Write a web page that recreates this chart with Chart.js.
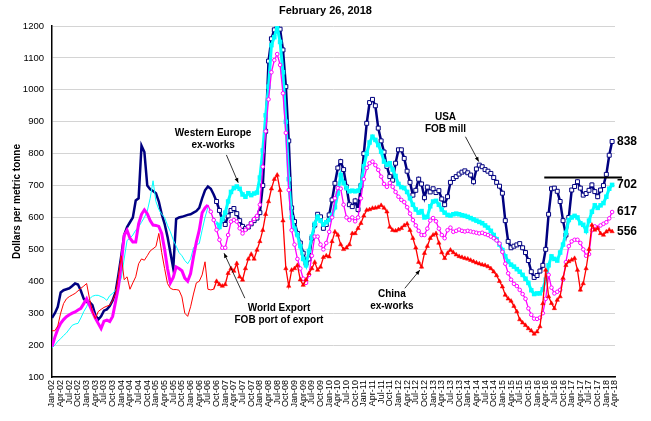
<!DOCTYPE html>
<html>
<head>
<meta charset="utf-8">
<title>Steel prices, February 26, 2018</title>
<script src="https://cdn.jsdelivr.net/npm/chart.js@4.4.1/dist/chart.umd.min.js"></script>
<style>
  html, body { margin: 0; padding: 0; background: #fff; }
  #wrap { width: 651px; height: 421px; position: relative; }
</style>
</head>
<body>
<div id="wrap"><canvas id="priceChart"></canvas></div>
<script>
// quarterly tick labels, one every 3 months from Jan-02
const tickLabels = [
  "Jan-02","Apr-02","Jul-02","Oct-02","Jan-03","Apr-03","Jul-03","Oct-03",
  "Jan-04","Apr-04","Jul-04","Oct-04","Jan-05","Apr-05","Jul-05","Oct-05",
  "Jan-06","Apr-06","Jul-06","Oct-06","Jan-07","Apr-07","Jul-07","Oct-07",
  "Jan-08","Apr-08","Jul-08","Oct-08","Jan-09","Apr-09","Jul-09","Oct-09",
  "Jan-10","Apr-10","Jul-10","Oct-10","Jan-11","Apr-11","Jul-11","Oct-11",
  "Jan-12","Apr-12","Jul-12","Oct-12","Jan-13","Apr-13","Jul-13","Oct-13",
  "Jan-14","Apr-14","Jul-14","Oct-14","Jan-15","Apr-15","Jul-15","Oct-15",
  "Jan-16","Apr-16","Jul-16","Oct-16","Jan-17","Apr-17","Jul-17","Oct-17",
  "Jan-18","Apr-18"
];
const monthsPerTick = 3;

// monthly prices, $/t, Jan-02 onward
const usaFob = [
  285,300,320,365,372,375,378,385,393,390,370,345,
  335,335,325,295,280,290,308,312,322,340,365,420,
  480,545,570,585,600,653,660,825,805,700,688,683,
  676,650,610,580,540,490,440,595,600,602,605,608,
  610,615,620,630,660,685,697,690,672,650,622,590,
  578,605,622,628,612,590,572,565,570,580,590,598,
  615,700,870,1090,1160,1188,1200,1190,1125,1010,840,630,
  587,550,520,488,456,470,535,576,610,602,566,578,
  608,655,707,755,775,750,696,640,634,652,625,700,
  800,895,960,970,950,880,840,805,760,728,717,770,
  812,812,785,745,710,670,685,720,705,662,695,680,
  690,678,684,658,640,665,710,722,728,736,742,746,
  740,733,712,752,764,759,750,745,738,725,710,698,
  676,590,525,505,510,514,518,505,490,465,430,412,
  418,432,450,500,610,690,692,682,650,590,545,600,
  686,697,712,692,670,675,685,702,681,665,686,700,
  735,795,838
];
const westEurope = [
  192,200,212,220,230,238,250,262,266,268,285,305,
  320,345,353,356,356,352,348,340,355,362,372,385,
  410,470,528,535,545,560,570,585,600,620,660,715,
  650,625,610,600,575,555,530,510,490,480,465,455,
  470,505,515,518,560,600,632,null,600,585,570,595,
  615,650,680,692,697,690,672,665,676,670,675,678,
  725,810,920,1010,1140,1165,1198,1150,1055,900,720,600,
  565,545,510,470,450,495,540,580,602,590,578,585,
  592,608,632,675,733,708,692,682,684,682,684,700,
  760,800,835,853,843,827,806,775,765,770,750,730,
  705,695,692,680,660,640,625,615,620,600,602,635,
  650,652,640,625,615,608,606,610,612,610,607,605,
  602,598,594,590,586,582,575,568,558,545,532,515,
  498,478,462,452,446,438,430,420,408,395,372,360,
  362,362,375,405,450,478,470,465,490,515,552,592,
  600,605,600,582,577,558,590,618,638,630,638,645,
  665,690,702
];
const worldExport = [
  195,225,250,268,280,289,295,300,304,310,315,330,
  345,325,304,285,268,252,275,278,274,290,335,382,
  455,544,560,535,523,523,580,610,624,612,590,576,
  575,572,550,500,440,395,412,445,440,433,410,400,
  424,476,523,560,615,630,639,618,592,561,530,505,
  505,545,587,592,587,566,550,561,571,582,595,605,
  640,759,870,970,1055,1093,1112,1078,989,865,686,560,
  515,470,440,408,395,420,480,540,540,515,500,520,
  555,600,660,692,690,640,600,592,600,588,600,660,
  720,755,770,775,764,749,728,705,696,708,696,680,
  665,655,648,632,612,592,575,558,545,545,565,590,
  598,588,565,545,535,560,568,555,558,562,558,556,
  558,556,554,552,550,552,548,545,540,535,528,518,
  492,455,425,405,392,385,373,360,345,315,295,283,
  282,286,300,345,420,380,362,367,373,405,460,510,
  525,530,530,520,500,480,485,560,572,568,575,580,
  585,597,617
];
const chinaExw = [
  245,245,260,300,330,345,352,357,362,370,378,385,
  393,345,305,283,305,312,318,322,325,340,361,415,
  480,405,414,375,395,414,455,470,466,480,495,502,
  509,550,490,440,393,378,374,374,372,351,300,290,
  320,360,395,400,420,461,375,373,375,400,390,385,
  390,425,440,432,456,414,404,440,470,485,470,498,
  525,560,610,650,690,720,733,685,590,440,385,435,
  440,450,405,388,405,425,440,460,435,445,475,480,
  477,525,555,545,515,500,505,515,550,550,566,582,
  605,623,625,629,630,632,638,630,618,570,560,558,
  562,566,575,580,560,535,505,460,445,488,510,535,
  545,550,520,490,472,488,498,490,483,478,475,472,
  470,466,462,458,455,452,450,446,440,430,418,400,
  383,357,345,338,322,305,280,270,262,252,245,235,
  242,258,330,435,352,331,315,341,352,410,450,462,
  467,472,435,373,393,440,500,576,561,566,550,545,
  555,561,556
];

// horizontal marker level drawn across 2016-2018
const refLevel = 725;
const refFrom = 170.5;
const refTo = 197.4;

const toPoints = (arr) => arr.map((v, i) => ({ x: i, y: v }));

Chart.defaults.font.family = "'Liberation Sans', Arial, sans-serif";
Chart.defaults.color = "#000";

// text callouts, placed in data coordinates (month index, $/t)
const callouts = [
  { lines: ["Western Europe", "ex-works"], at: [55.8, 844], from: [60.4, 796], to: [64.5, 709] },
  { lines: ["World Export", "FOB port of export"], at: [78.6, 297], from: [66.8, 347], to: [59.6, 488] },
  { lines: ["USA", "FOB mill"], at: [136.3, 896], from: [143.2, 853], to: [147.8, 775] },
  { lines: ["China", "ex-works"], at: [117.7, 339], from: [122.2, 378], to: [127.4, 435] }
];
const endSeries = [usaFob, westEurope, worldExport, chinaExw];

const decorations = {
  id: "decorations",
  afterDatasetsDraw(chart) {
    const { ctx, scales: { x, y }, chartArea } = chart;
    ctx.save();
    ctx.fillStyle = "#000";
    ctx.strokeStyle = "#000";

    ctx.font = "bold 11px 'Liberation Sans', Arial, sans-serif";
    ctx.textAlign = "center";
    ctx.textBaseline = "middle";
    ctx.fillText("February 26, 2018", chart.width / 2, 11);

    ctx.font = "bold 10px 'Liberation Sans', Arial, sans-serif";
    callouts.forEach((c) => {
      const cx = x.getPixelForValue(c.at[0]);
      const cy = y.getPixelForValue(c.at[1]);
      ctx.fillText(c.lines[0], cx, cy - 6);
      ctx.fillText(c.lines[1], cx, cy + 6);
      const x0 = x.getPixelForValue(c.from[0]), y0 = y.getPixelForValue(c.from[1]);
      const x1 = x.getPixelForValue(c.to[0]), y1 = y.getPixelForValue(c.to[1]);
      ctx.lineWidth = 0.8;
      ctx.beginPath();
      ctx.moveTo(x0, y0);
      ctx.lineTo(x1, y1);
      ctx.stroke();
      const ang = Math.atan2(y1 - y0, x1 - x0);
      ctx.beginPath();
      ctx.moveTo(x1, y1);
      ctx.lineTo(x1 - 5 * Math.cos(ang - 0.4), y1 - 5 * Math.sin(ang - 0.4));
      ctx.lineTo(x1 - 5 * Math.cos(ang + 0.4), y1 - 5 * Math.sin(ang + 0.4));
      ctx.closePath();
      ctx.fill();
    });

    ctx.font = "bold 12px 'Liberation Sans', Arial, sans-serif";
    ctx.textAlign = "left";
    endSeries.forEach((s) => {
      const last = s[s.length - 1];
      ctx.fillText(String(last), chartArea.right + 2, y.getPixelForValue(last));
    });
    ctx.restore();
  }
};

const navy = "#000080", cyan = "#00FFFF", magenta = "#FF00FF", red = "#FF0000";

new Chart(document.getElementById("priceChart"), {
  type: "line",
  data: {
    datasets: [
      {
        label: "China ex-works",
        data: toPoints(chinaExw),
        borderColor: red,
        backgroundColor: red,
        segment: { borderWidth: (c) => (c.p0DataIndex >= 56 ? 1.3 : 1) },
        pointStyle: "triangle",
        pointRadius: (c) => (c.dataIndex >= 57 ? 2.5 : 0),
        pointBackgroundColor: red,
        pointBorderColor: red,
        pointBorderWidth: 0.5,
        order: 1
      },
      {
        label: "World Export FOB port of export",
        data: toPoints(worldExport),
        borderColor: magenta,
        backgroundColor: magenta,
        segment: { borderWidth: (c) => (c.p0DataIndex >= 54 ? 1.3 : 3) },
        pointStyle: "circle",
        pointRadius: (c) => (c.dataIndex >= 55 ? 1.8 : 0),
        pointBackgroundColor: "#fff",
        pointBorderColor: magenta,
        pointBorderWidth: 1,
        order: 2
      },
      {
        label: "Western Europe ex-works",
        data: toPoints(westEurope),
        borderColor: cyan,
        backgroundColor: cyan,
        segment: { borderWidth: (c) => (c.p0DataIndex >= 57 ? 3 : 1) },
        pointStyle: "rect",
        pointRadius: (c) => (c.dataIndex >= 58 ? 3.2 : 0),
        pointBackgroundColor: cyan,
        pointBorderColor: cyan,
        pointBorderWidth: 0,
        order: 3
      },
      {
        label: "USA FOB mill",
        data: toPoints(usaFob),
        borderColor: navy,
        backgroundColor: navy,
        borderWidth: 2.5,
        pointStyle: "rect",
        pointRadius: (c) => (c.dataIndex >= 57 ? 2.8 : 0),
        pointBackgroundColor: "#fff",
        pointBorderColor: navy,
        pointBorderWidth: 1,
        order: 4
      },
      {
        label: "level",
        data: [{ x: refFrom, y: refLevel }, { x: refTo, y: refLevel }],
        borderColor: "#000",
        borderWidth: 2,
        pointRadius: 0,
        clip: false,
        order: 0
      }
    ]
  },
  options: {
    responsive: true,
    maintainAspectRatio: false,
    animation: false,
    events: [],
    layout: { padding: { top: 26, right: 36, left: 0, bottom: 0 } },
    elements: { line: { tension: 0 } },
    plugins: {
      legend: { display: false },
      title: { display: false },
      tooltip: { enabled: false }
    },
    scales: {
      x: {
        type: "linear",
        min: 0,
        max: (tickLabels.length - 1) * monthsPerTick,
        afterFit: (s) => { s.height = 44; },
        grid: { display: false, drawTicks: false },
        border: { display: true, color: "#000", width: 1.5 },
        ticks: {
          stepSize: monthsPerTick,
          autoSkip: false,
          maxRotation: 90,
          minRotation: 90,
          padding: 3,
          font: { size: 9 },
          callback: (v) => tickLabels[Math.round(v / monthsPerTick)]
        }
      },
      y: {
        min: 100,
        max: 1200,
        afterFit: (s) => { s.width = 52; },
        grid: { color: "#d4d4d4", lineWidth: 1, drawTicks: false },
        border: { display: true, color: "#000", width: 1.5 },
        ticks: { stepSize: 100, padding: 8, font: { size: 9.5 }, callback: (v) => String(v) },
        title: {
          display: true,
          text: "Dollars per metric tonne",
          font: { size: 10, weight: "bold" },
          padding: { top: 11, bottom: 0 }
        }
      }
    }
  },
  plugins: [decorations]
});
</script>
</body>
</html>
